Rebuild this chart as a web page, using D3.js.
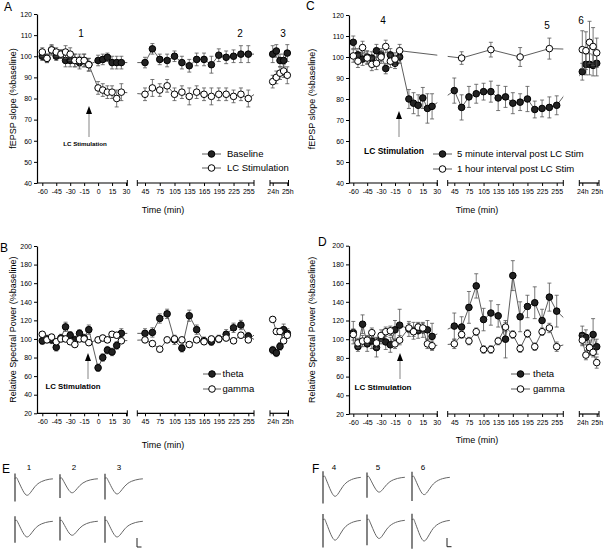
<!DOCTYPE html>
<html><head><meta charset="utf-8">
<script src="https://cdn.jsdelivr.net/npm/d3@7"></script>
<style>
body{margin:0;background:#fff}
svg{display:block;font-family:"Liberation Sans",Arial,Helvetica,sans-serif}
</style></head><body><svg id="c" width="605" height="549"></svg>
<script>
// ---------- DATA ----------
const timeSeg1 = [-60,-55,-50,-45,-40,-35,-30,-25,-20,-15,-10,0,5,10,15,20,25];
const timeSeg1Pre = [-60,-55,-50,-45,-40,-35,-30,-25,-20,-15,-10];
const timeSeg2 = [45,60,75,90,105,120,135,150,165,180,195,210,225,240,255];
const timeSeg2Hourly = [60,120,180,240];
const timeSeg3 = [0,15,30,45,60]; // minutes after 24h
const seg1Ticks = [-60,-45,-30,-15,0,15,30];
const seg2Ticks = [45,75,105,135,165,195,225,255];
const seg3Ticks = [0,60];
const seg3TickLabels = ["24h","25h"];
const fepspTicks = [40,50,60,70,80,90,100,110,120];
const powerTicks = [20,40,60,80,100,120,140,160,180,200];

// Panel A
const aBaseline1 = [100,99,103,100,101,98,98,98,97,98,96,98,98.5,99.5,97,97,97];
const aBaselineErr1 = [2,2,2.5,2,2,3,3,3,3,3,3,2.5,2.5,2,3,3,3];
const aBaseline2 = [97,103.5,98.5,98,100,97,95.5,98.5,98.5,96,100.5,99.5,100,101,101];
const aBaselineErr2 = [2.5,2.5,2.5,3,2.5,3,3,3,3,4,3,3,3,4,4];
const aBaseline3 = [101,102.5,98,98,101.5];
const aBaselineErr3 = [4,3,3,3,4];
const aLC1 = [102,99,103,102,101,102,101,98,98,98,96,85,84,83,83,80,83];
const aLCErr1 = [2,2,2,2,2,3,3,3,3,3,3,3,3,3,3,4,4];
const aLC2 = [82,85,84,86,82,83,81,83,82,81,82,82,81,82,80];
const aLCErr2 = [3,4,3,3,3,3,4,3,3,4,3,3,3,3,4];
const aLC3 = [88,90,92,93,91];
const aLCErr3 = [3,3,3,3,4];

// Panel B
const bTheta1 = [98,100,99,91,101,113,104,99,106,101,110,69,80,88,86,93,106];
const bThetaErr1 = [4,4,4,4,4,5,4,4,4,4,5,4,4,4,4,4,5];
const bTheta2 = [106,107,122,127,99,90,125,110,98,97,100,105,112,115,103];
const bThetaErr2 = [5,5,5,5,5,4,6,5,4,4,4,5,5,5,4];
const bTheta3 = [88,85,92,110,106];
const bThetaErr3 = [4,4,4,6,5];
const bGamma1 = [105,99,102,97,100,100,97,94,100,100,96,99,101,99,105,104,98];
const bGammaErr1 = [3,3,3,3,3,3,3,3,3,3,3,3,3,3,3,3,3];
const bGamma2 = [99,95,89,99,100,99,94,99,97,100,100,101,98,104,99];
const bGammaErr2 = [3,3,3,3,3,3,3,3,3,3,3,3,3,3,3];
const bGamma3 = [121,108,108,98,104];
const bGammaErr3 = [3,3,3,3,3];

// Panel C
const cFive1 = [107,101,99,100,99.5,103,101,94.5,101,97,100,80,78,77,80.5,75.5,76.5];
const cFiveErr1 = [3,3,3,3,3,3,3,2.5,3,2.5,3,4.5,5,5,5,7,6];
const cFive2 = [84,76,81,82.5,83.5,83.5,80.5,81,78,78.5,80,75,75.5,76,77];
const cFiveErr2 = [6,6,5,4.5,4,5,6,5,5,4,6,4,4,5,4.5];
const cFive3 = [93,96.5,96.5,96,97];
const cFiveErr3 = [4,5,5,5,6];
const cHour1 = [100.5,98,104.5,99.5,96.5,97,100,105,98,99,103];
const cHourErr1 = [3,3,3,3,3,3,3,3,3,3,3];
const cHour2 = [99.5,103.5,100,104];
const cHourErr2 = [3,3.5,4.5,5];
const cHour3 = [103.5,103,107,105,102];
const cHourErr3 = [9,9,10,9,7];

// Panel D
const dTheta1 = [107,92,116,95,98,91,101,97,94,110,115,111,109,109,110,110,103];
const dThetaErr1 = [12,5,10,8,8,10,6,8,8,10,17,8,9,8,8,10,14];
const dTheta2 = [114,113,134,157,121,128,125,100,168,124,135,139,120,145,130];
const dThetaErr2 = [14,11,17,13,12,13,12,20,16,16,12,17,12,15,17];
const dTheta3 = [104,102,91,105,92];
const dThetaErr3 = [10,8,8,17,8];
const dGamma1 = [105,96,98,99,107,96,104,108,109,95,99,112,108,113,112,95,93];
const dGammaErr1 = [6,5,6,5,5,6,6,5,5,5,5,5,5,5,5,5,5];
const dGamma2 = [95,105,98,108,89,89,98,113,105,90,106,92,108,112,92];
const dGammaErr2 = [5,4,4,4,4,4,4,5,4,4,4,4,4,5,5];
const dGamma3 = [99,83,91,86,75];
const dGammaErr3 = [6,5,6,5,6];

// Example fEPSP traces (E, F): template (fraction of trace width, normalised deflection) and amplitudes (mV)
const traceTemplateT = [0,0.04,0.08,0.12,0.18,0.24,0.29,0.33,0.38,0.45,0.52,0.6,0.7,0.8,0.9,1.0];
const traceTemplateV = [0,-0.1,0.12,0.3,0.6,0.85,0.98,1.0,0.92,0.7,0.48,0.3,0.17,0.09,0.04,0.02];
const traceLabelsE = ["1","2","3"];
const traceLabelsF = ["4","5","6"];
const ampE_top = [1.0,0.85,0.92];
const ampE_bottom = [0.95,0.85,0.95];
const ampF_top = [1.15,0.9,1.05];
const ampF_bottom = [1.2,1.1,1.25];

// ---------- DRAW ----------
const svg = d3.select('#c');
const FILL = '#222';
const R = 3.3;

function seriesOf(t1,v1,e1,t2,v2,e2,t3,v3,e3){
  return [{t:t1,v:v1,e:e1},{t:t2,v:v2,e:e2},{t:t3,v:v3,e:e3}];
}

function drawPanel(cfg){
  const g = svg.append('g');
  const y = d3.scaleLinear().domain(cfg.yDomain).range(cfg.yRange);
  const xs = cfg.segs.map(s => d3.scaleLinear().domain(s.domain).range(s.range));
  const yBase = cfg.yRange[0];

  const ya = g.append('g').attr('transform',`translate(${cfg.yAxisX},0)`)
    .call(d3.axisLeft(y).tickValues(cfg.yTicks).tickSize(3).tickSizeOuter(0).tickPadding(2));
  styleAxis(ya);

  cfg.segs.forEach((s,i)=>{
    const xa = g.append('g').attr('transform',`translate(0,${yBase})`)
      .call(d3.axisBottom(xs[i]).tickValues(s.ticks).tickSize(3).tickSizeOuter(0).tickPadding(3)
        .tickFormat((d,j)=> s.labels ? s.labels[j] : d));
    styleAxis(xa);
    xa.select('.domain').remove();
    g.append('line').attr('x1',s.extent[0]).attr('x2',s.extent[1]).attr('y1',yBase).attr('y2',yBase)
      .attr('stroke','#000').attr('stroke-width',1.2);
    const caps = i===0 ? [s.extent[1]] : s.extent;
    caps.forEach(cx=>{
      g.append('line').attr('x1',cx).attr('x2',cx).attr('y1',yBase-3).attr('y2',yBase+3)
        .attr('stroke','#000').attr('stroke-width',1);
    });
  });

  const cid = 'clip'+cfg.id;
  const cp = svg.append('defs').append('clipPath').attr('id',cid);
  cfg.segs.forEach(s=>{
    cp.append('rect').attr('x',s.extent[0]).attr('y',0).attr('width',s.extent[1]-s.extent[0]).attr('height',549);
  });

  cfg.series.forEach(ser=>{
    const pts = ser.data.flatMap((sd,i)=> sd.t.map((t,j)=>({x:xs[i](t), v:sd.v[j], e:sd.e[j]})));
    g.append('path').attr('clip-path',`url(#${cid})`)
      .attr('d', d3.line().x(d=>d.x).y(d=>y(d.v))(pts))
      .attr('fill','none').attr('stroke','#333').attr('stroke-width',0.8);
    const eb = g.append('g').attr('stroke','#555').attr('stroke-width',0.8);
    pts.forEach(p=>{
      eb.append('line').attr('x1',p.x).attr('x2',p.x).attr('y1',y(p.v-p.e)).attr('y2',y(p.v+p.e));
      [p.v-p.e,p.v+p.e].forEach(vv=>{
        eb.append('line').attr('x1',p.x-2).attr('x2',p.x+2).attr('y1',y(vv)).attr('y2',y(vv));
      });
    });
    g.append('g').selectAll('circle').data(pts).join('circle')
      .attr('cx',d=>d.x).attr('cy',d=>y(d.v)).attr('r',R)
      .attr('fill', ser.open ? '#fff' : FILL).attr('stroke','#000').attr('stroke-width',1);
  });

  g.append('text').attr('transform',`translate(${cfg.yTitleX},${(cfg.yRange[0]+cfg.yRange[1])/2}) rotate(-90)`)
    .attr('text-anchor','middle').attr('font-size',9).text(cfg.yTitle);
  g.append('text').attr('x',cfg.xTitle[0]).attr('y',cfg.xTitle[1]).attr('text-anchor','middle')
    .attr('font-size',9).text('Time (min)');

  cfg.series.forEach((ser,i)=>{
    const ly = cfg.legend.y[i];
    g.append('line').attr('x1',cfg.legend.x1).attr('x2',cfg.legend.x2).attr('y1',ly).attr('y2',ly)
      .attr('stroke','#333').attr('stroke-width',0.8);
    g.append('circle').attr('cx',(cfg.legend.x1+cfg.legend.x2)/2).attr('cy',ly).attr('r',R)
      .attr('fill', ser.open ? '#fff' : FILL).attr('stroke','#000').attr('stroke-width',1);
    g.append('text').attr('x',cfg.legend.tx).attr('y',ly+3.4).attr('font-size',9.5).text(ser.name);
  });

  const a = cfg.arrow;
  g.append('line').attr('x1',a.x).attr('x2',a.x).attr('y1',a.bottom).attr('y2',a.tip+6)
    .attr('stroke','#999').attr('stroke-width',1.2);
  g.append('path').attr('d',`M${a.x},${a.tip} L${a.x-3},${a.tip+8} L${a.x+3},${a.tip+8} Z`).attr('fill','#000');
  g.append('text').attr('x',a.lx).attr('y',a.ly).attr('text-anchor','middle')
    .attr('font-size',a.fs).attr('font-weight','bold').text('LC Stimulation');

  (cfg.numbers||[]).forEach(n=>{
    g.append('text').attr('x',n.x).attr('y',n.y).attr('text-anchor','middle').attr('font-size',10).text(n.t);
  });

  g.append('text').attr('x',cfg.letter.x).attr('y',cfg.letter.y).attr('font-size',12).text(cfg.letter.t);
}

function styleAxis(sel){
  sel.attr('font-family',null).attr('font-size',null);
  sel.selectAll('text').attr('font-size',7).attr('fill','#000');
  sel.selectAll('.tick line').attr('stroke','#000').attr('stroke-width',1);
  sel.select('.domain').attr('stroke','#000').attr('stroke-width',1.2);
}

const leftSegs = [
  {domain:[-60,30], range:[42.3,126], extent:[37,127.3], ticks:seg1Ticks},
  {domain:[45,255], range:[145,248.3], extent:[137.3,254], ticks:seg2Ticks},
  {domain:[0,60], range:[272.7,287.3], extent:[270,288.5], ticks:seg3Ticks, labels:seg3TickLabels}
];
const rightSegs = [
  {domain:[-60,30], range:[353.3,436.7], extent:[349,437.3], ticks:seg1Ticks},
  {domain:[45,255], range:[454.3,556.7], extent:[447.7,563.3], ticks:seg2Ticks},
  {domain:[0,60], range:[582.3,596.7], extent:[579.3,599], ticks:seg3Ticks, labels:seg3TickLabels}
];

drawPanel({
  id:'A', yAxisX:37, yDomain:[40,120], yRange:[183,14], yTicks:fepspTicks, segs:leftSegs,
  yTitle:'fEPSP slope (%baseline)', yTitleX:15.5, xTitle:[163,212.5],
  series:[
    {name:'Baseline', open:false, data:seriesOf(timeSeg1,aBaseline1,aBaselineErr1,timeSeg2,aBaseline2,aBaselineErr2,timeSeg3,aBaseline3,aBaselineErr3)},
    {name:'LC Stimulation', open:true, data:seriesOf(timeSeg1,aLC1,aLCErr1,timeSeg2,aLC2,aLCErr2,timeSeg3,aLC3,aLCErr3)}
  ],
  legend:{x1:202,x2:221,tx:227,y:[154,168]},
  arrow:{x:89,tip:106,bottom:137,lx:85,ly:146.3,fs:6.2},
  numbers:[{t:'1',x:81,y:37},{t:'2',x:240,y:37},{t:'3',x:283,y:37}],
  letter:{t:'A',x:4,y:11}
});
drawPanel({
  id:'B', yAxisX:37, yDomain:[20,200], yRange:[413.3,246], yTicks:powerTicks, segs:leftSegs,
  yTitle:'Relative Spectral Power (%baseline)', yTitleX:15.5, xTitle:[163,447.5],
  series:[
    {name:'theta', open:false, data:seriesOf(timeSeg1,bTheta1,bThetaErr1,timeSeg2,bTheta2,bThetaErr2,timeSeg3,bTheta3,bThetaErr3)},
    {name:'gamma', open:true, data:seriesOf(timeSeg1,bGamma1,bGammaErr1,timeSeg2,bGamma2,bGammaErr2,timeSeg3,bGamma3,bGammaErr3)}
  ],
  legend:{x1:203,x2:221,tx:222.5,y:[374,389]},
  arrow:{x:88,tip:353,bottom:379,lx:73,ly:388.8,fs:7.8},
  letter:{t:'B',x:0,y:252}
});
drawPanel({
  id:'C', yAxisX:349, yDomain:[40,120], yRange:[183,15], yTicks:fepspTicks, segs:rightSegs,
  yTitle:'fEPSP slope (%baseline)', yTitleX:315, xTitle:[477,212.5],
  series:[
    {name:'5 minute interval post LC Stim', open:false, data:seriesOf(timeSeg1,cFive1,cFiveErr1,timeSeg2,cFive2,cFiveErr2,timeSeg3,cFive3,cFiveErr3)},
    {name:'1 hour interval post LC Stim', open:true, data:seriesOf(timeSeg1Pre,cHour1,cHourErr1,timeSeg2Hourly,cHour2,cHourErr2,timeSeg3,cHour3,cHourErr3)}
  ],
  legend:{x1:433,x2:452,tx:457,y:[154,169]},
  arrow:{x:399,tip:111,bottom:137,lx:394,ly:154,fs:8.5},
  numbers:[{t:'4',x:383,y:23.6},{t:'5',x:547,y:28.6},{t:'6',x:581,y:24.3}],
  letter:{t:'C',x:306,y:10}
});
drawPanel({
  id:'D', yAxisX:349, yDomain:[20,200], yRange:[414,245.7], yTicks:powerTicks, segs:rightSegs,
  yTitle:'Relative Spectral Power (%baseline)', yTitleX:315, xTitle:[477,443],
  series:[
    {name:'theta', open:false, data:seriesOf(timeSeg1,dTheta1,dThetaErr1,timeSeg2,dTheta2,dThetaErr2,timeSeg3,dTheta3,dThetaErr3)},
    {name:'gamma', open:true, data:seriesOf(timeSeg1,dGamma1,dGammaErr1,timeSeg2,dGamma2,dGammaErr2,timeSeg3,dGamma3,dGammaErr3)}
  ],
  legend:{x1:511,x2:530,tx:533,y:[374,389]},
  arrow:{x:400,tip:353,bottom:379,lx:383,ly:390,fs:8.1},
  letter:{t:'D',x:318,y:245.5}
});

// ---------- Example traces ----------
function drawTraces(cfg){
  const g = svg.append('g');
  const tx = d3.scaleLinear().domain([0,1]).range([0,cfg.width]);
  const pxPerMv = 17;
  cfg.labels.forEach((lab,i)=>{
    g.append('text').attr('x',cfg.x0[i]+cfg.labelDx).attr('y',cfg.labelY).attr('text-anchor','middle')
      .attr('font-size',8).text(lab);
  });
  cfg.rows.forEach(row=>{
    row.amps.forEach((amp,i)=>{
      const x0 = cfg.x0[i];
      const ty = d3.scaleLinear().domain([0,amp]).range([row.base, row.base+amp*pxPerMv]);
      const line = d3.line().curve(d3.curveBasis)
        .x((d,j)=>x0+tx(traceTemplateT[j])).y(d=>ty(d*amp));
      g.append('path').attr('d',line(traceTemplateV)).attr('fill','none')
        .attr('stroke','#666').attr('stroke-width',1);
      g.append('line').attr('x1',x0).attr('x2',x0)
        .attr('y1',ty(-0.3*amp)).attr('y2',ty(1.35*amp))
        .attr('stroke','#333').attr('stroke-width',1.2);
    });
  });
  const sb = cfg.scaleBar;
  g.append('path').attr('d',`M${sb.x},${sb.y0} V${sb.y1} H${sb.x+4.5}`).attr('fill','none')
    .attr('stroke','#222').attr('stroke-width',1);
  g.append('text').attr('x',cfg.letter.x).attr('y',cfg.letter.y).attr('font-size',12).text(cfg.letter.t);
}
drawTraces({
  labels:traceLabelsE, x0:[15,60,105], width:38, labelDx:14, labelY:470,
  rows:[{base:478.5, amps:ampE_top},{base:521, amps:ampE_bottom}],
  scaleBar:{x:137,y0:538,y1:547}, letter:{t:'E',x:2,y:473}
});
drawTraces({
  labels:traceLabelsF, x0:[323,367,412], width:38, labelDx:11, labelY:470,
  rows:[{base:477, amps:ampF_top},{base:520, amps:ampF_bottom}],
  scaleBar:{x:447,y0:538,y1:546.7}, letter:{t:'F',x:312,y:473}
});
</script></body></html>
